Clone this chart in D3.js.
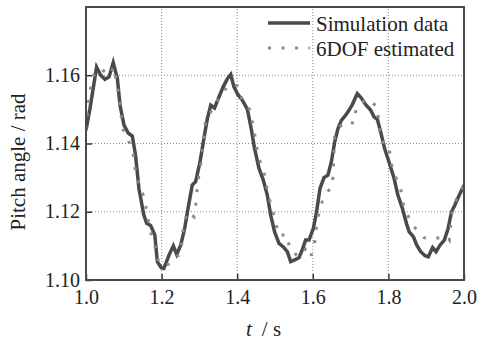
<!DOCTYPE html>
<html>
<head>
<meta charset="utf-8">
<script src="https://cdn.jsdelivr.net/npm/d3@7"></script>
<style>
  body { margin: 0; background: #fff; }
  svg { display: block; }
  svg text { font-family: "Liberation Serif", "Times New Roman", serif; }
</style>
</head>
<body>
<div id="chart"></div>
<script>
// simulation data, [t (s), pitch (rad)]
const simData = [
  [1.000, 1.1439], [1.0106, 1.1503], [1.028, 1.1624], [1.039, 1.1600], [1.050, 1.1588],
  [1.061, 1.1595], [1.072, 1.1637], [1.083, 1.1590], [1.090, 1.1512], [1.1005, 1.1454],
  [1.112, 1.1430], [1.1225, 1.1422], [1.131, 1.1366], [1.140, 1.1268], [1.153, 1.1190],
  [1.1605, 1.1166], [1.171, 1.1160], [1.182, 1.1132], [1.1887, 1.1054], [1.199, 1.1036],
  [1.206, 1.1034], [1.2196, 1.1073], [1.231, 1.1100], [1.240, 1.1075], [1.2505, 1.1102],
  [1.261, 1.1151], [1.270, 1.1210], [1.281, 1.1278], [1.290, 1.1288], [1.3016, 1.1346],
  [1.312, 1.1415], [1.321, 1.1473], [1.330, 1.1512], [1.340, 1.1504], [1.352, 1.1537],
  [1.363, 1.1566], [1.374, 1.1590], [1.383, 1.1602], [1.3915, 1.1566], [1.402, 1.1543],
  [1.4135, 1.1527], [1.427, 1.1500], [1.437, 1.1444], [1.446, 1.1385], [1.4577, 1.1327],
  [1.469, 1.1293], [1.4796, 1.1249], [1.4886, 1.1190], [1.499, 1.1141], [1.5106, 1.1107],
  [1.522, 1.1097], [1.5326, 1.1083], [1.5415, 1.1054], [1.552, 1.1059], [1.5635, 1.1065],
  [1.572, 1.1088], [1.581, 1.1117], [1.590, 1.1117], [1.6014, 1.1151], [1.610, 1.1200],
  [1.619, 1.1268], [1.6296, 1.1300], [1.640, 1.1307], [1.649, 1.1346], [1.658, 1.1405],
  [1.6667, 1.1444], [1.6755, 1.1468], [1.687, 1.1483], [1.696, 1.1498], [1.7045, 1.1514],
  [1.7177, 1.1546], [1.728, 1.1534], [1.740, 1.1514], [1.753, 1.1498], [1.762, 1.1478],
  [1.7707, 1.1471], [1.7796, 1.1434], [1.790, 1.1385], [1.8016, 1.1346], [1.815, 1.1298],
  [1.825, 1.1249], [1.837, 1.1210], [1.848, 1.1165], [1.855, 1.1141], [1.866, 1.1127],
  [1.875, 1.1102], [1.8855, 1.1083], [1.897, 1.1071], [1.9056, 1.1068], [1.917, 1.1095],
  [1.926, 1.1083], [1.9365, 1.1102], [1.948, 1.1117], [1.958, 1.1151], [1.967, 1.1200],
  [1.976, 1.1220], [1.9876, 1.1249], [2.000, 1.1278]
];

// 6DOF estimate, [t (s), pitch (rad)]
const estData = [
  [1.000, 1.1440], [1.005, 1.1503], [1.009, 1.1547], [1.020, 1.1600], [1.037, 1.1620],
  [1.050, 1.1610], [1.062, 1.1600], [1.073, 1.1625], [1.083, 1.1570], [1.092, 1.1488],
  [1.099, 1.1439], [1.112, 1.1410], [1.125, 1.1368], [1.131, 1.1317], [1.140, 1.1280],
  [1.155, 1.1239], [1.162, 1.1192], [1.169, 1.1146], [1.180, 1.1110], [1.190, 1.1060],
  [1.205, 1.1040], [1.215, 1.1045], [1.226, 1.1049], [1.240, 1.1070], [1.2505, 1.1075],
  [1.259, 1.1170], [1.270, 1.1200], [1.2857, 1.1185], [1.292, 1.1232], [1.2945, 1.1278],
  [1.305, 1.1350], [1.3166, 1.1468], [1.3386, 1.1507], [1.355, 1.1540], [1.378, 1.1573],
  [1.400, 1.1569], [1.4135, 1.1527], [1.434, 1.1498], [1.449, 1.1410], [1.455, 1.1361],
  [1.469, 1.1327], [1.482, 1.1250], [1.4955, 1.1195], [1.510, 1.1130], [1.531, 1.1134],
  [1.540, 1.1088], [1.5635, 1.1068], [1.580, 1.1090], [1.594, 1.1065], [1.6077, 1.1124],
  [1.610, 1.1171], [1.625, 1.1230], [1.640, 1.1260], [1.6516, 1.1273], [1.654, 1.1322],
  [1.656, 1.1371], [1.658, 1.1420], [1.674, 1.1452], [1.690, 1.1465], [1.709, 1.1459],
  [1.715, 1.1507], [1.7425, 1.1530], [1.769, 1.1510], [1.775, 1.1463], [1.778, 1.1415],
  [1.790, 1.1400], [1.8016, 1.1395], [1.806, 1.1346], [1.820, 1.1300], [1.832, 1.1270],
  [1.839, 1.1224], [1.855, 1.1180], [1.873, 1.1149], [1.894, 1.1124], [1.915, 1.1120],
  [1.9365, 1.1124], [1.961, 1.1114], [1.9646, 1.1161], [1.970, 1.1210], [1.985, 1.1250],
  [2.000, 1.1280]
];

const xTicks = [1.0, 1.2, 1.4, 1.6, 1.8, 2.0];
const yTicks = [1.10, 1.12, 1.14, 1.16];
const seriesNames = ["Simulation data", "6DOF estimated"];

const width = 478, height = 344;
const margin = { top: 7, right: 14, bottom: 64, left: 86 };

const svg = d3.select("#chart").append("svg")
  .attr("width", width)
  .attr("height", height);

const x = d3.scaleLinear().domain([1.0, 2.0]).range([margin.left, width - margin.right]);
const y = d3.scaleLinear().domain([1.10, 1.18]).range([height - margin.bottom, margin.top]);

// grid
svg.append("g")
  .selectAll("line")
  .data(xTicks.slice(1, -1))
  .join("line")
  .attr("x1", d => x(d)).attr("x2", d => x(d))
  .attr("y1", y.range()[0]).attr("y2", y.range()[1])
  .attr("stroke", "#8c8c8c").attr("stroke-width", 1).attr("stroke-dasharray", "1,2");

svg.append("g")
  .selectAll("line")
  .data(yTicks.slice(1))
  .join("line")
  .attr("x1", x.range()[0]).attr("x2", x.range()[1])
  .attr("y1", d => y(d)).attr("y2", d => y(d))
  .attr("stroke", "#8c8c8c").attr("stroke-width", 1).attr("stroke-dasharray", "1,2");

// axes, ticks pointing inward
const xAxis = svg.append("g")
  .attr("transform", `translate(0,${y.range()[0]})`)
  .call(d3.axisBottom(x).tickValues(xTicks).tickFormat(d3.format(".1f")).tickSizeInner(-6).tickSizeOuter(0).tickPadding(10));
const yAxis = svg.append("g")
  .attr("transform", `translate(${x.range()[0]},0)`)
  .call(d3.axisLeft(y).tickValues(yTicks).tickFormat(d3.format(".2f")).tickSizeInner(-6).tickSizeOuter(0).tickPadding(6));

[xAxis, yAxis].forEach(g => {
  g.attr("font-family", null).attr("font-size", 20);
  g.select(".domain").remove();
  g.selectAll(".tick line").attr("stroke", "#333").attr("stroke-width", 1.5);
  g.selectAll(".tick text").attr("fill", "#222");
});
yAxis.selectAll(".tick text").attr("dy", "0.3em");

// lines
const clipId = "plotclip";
svg.append("clipPath").attr("id", clipId)
  .append("rect")
  .attr("x", x.range()[0]).attr("y", y.range()[1])
  .attr("width", x.range()[1] - x.range()[0])
  .attr("height", y.range()[0] - y.range()[1]);

const line = d3.line().x(d => x(d[0])).y(d => y(d[1]));

svg.append("path")
  .datum(simData)
  .attr("clip-path", `url(#${clipId})`)
  .attr("d", line)
  .attr("fill", "none")
  .attr("stroke", "#4a4a4a")
  .attr("stroke-width", 3.5)
  .attr("stroke-linejoin", "miter");

svg.append("path")
  .datum(estData)
  .attr("clip-path", `url(#${clipId})`)
  .attr("d", line)
  .attr("fill", "none")
  .attr("stroke", "#8a8a8a")
  .attr("stroke-width", 3)
  .attr("stroke-dasharray", "3,10.5");

// frame
svg.append("rect")
  .attr("x", x.range()[0]).attr("y", y.range()[1])
  .attr("width", x.range()[1] - x.range()[0])
  .attr("height", y.range()[0] - y.range()[1])
  .attr("fill", "none")
  .attr("stroke", "#4a4a4a")
  .attr("stroke-width", 2);

// legend
const legend = svg.append("g").attr("transform", "translate(268,0)");
legend.append("line")
  .attr("x1", 0).attr("x2", 42).attr("y1", 23).attr("y2", 23)
  .attr("stroke", "#4a4a4a").attr("stroke-width", 3.5);
legend.append("line")
  .attr("x1", 0).attr("x2", 42).attr("y1", 48).attr("y2", 48)
  .attr("stroke", "#8a8a8a").attr("stroke-width", 3).attr("stroke-dasharray", "3,10.5");
legend.selectAll("text")
  .data(seriesNames)
  .join("text")
  .attr("x", 48)
  .attr("y", (d, i) => 31 + i * 24.5)
  .attr("font-size", 21)
  .attr("fill", "#222")
  .text(d => d);

// axis titles
svg.append("text")
  .attr("transform", "translate(25,162) rotate(-90)")
  .attr("text-anchor", "middle")
  .attr("font-size", 21)
  .attr("fill", "#222")
  .text("Pitch angle / rad");

const xt = svg.append("text")
  .attr("x", 246).attr("y", 336)
  .attr("font-size", 21)
  .attr("fill", "#222");
xt.append("tspan").attr("font-style", "italic").text("t");
xt.append("tspan").attr("dx", 10).text("/ s");
</script>
</body>
</html>
